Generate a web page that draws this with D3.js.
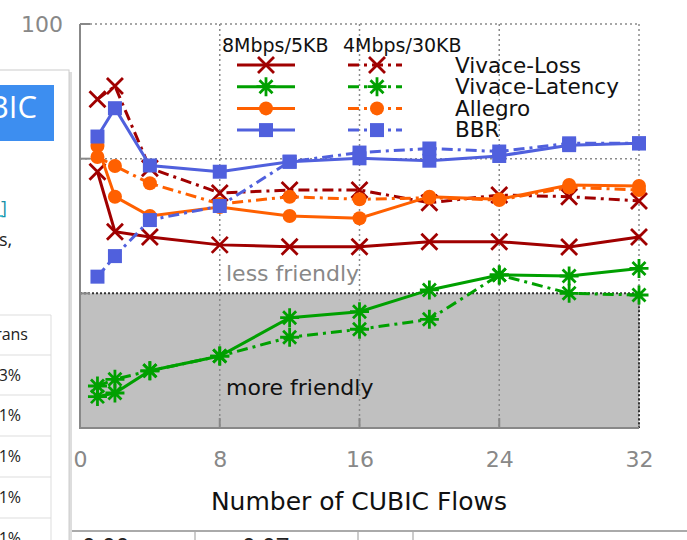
<!DOCTYPE html>
<html>
<head>
<meta charset="utf-8">
<script src="https://cdn.jsdelivr.net/npm/d3@7"></script>
<style>
  body { margin: 0; background: #fff; }
  svg { display: block; }
</style>
</head>
<body>
<script>
// number of CUBIC flows (x)
var flows = [1, 2, 4, 8, 12, 16, 20, 24, 28, 32];

// ratio values (log y axis)
var lossA    = [8.0, 2.87, 2.62, 2.29, 2.22, 2.22, 2.42, 2.42, 2.21, 2.62];   // 8Mbps/5KB
var lossB    = [27.6, 34.6, 8.5, 5.56, 5.85, 5.85, 4.71, 5.37, 5.22, 4.85];   // 4Mbps/30KB
var latA     = [0.171, 0.182, 0.266, 0.342, 0.659, 0.731, 1.06, 1.37, 1.345, 1.53];
var latB     = [0.205, 0.23, 0.266, 0.342, 0.472, 0.541, 0.641, 1.37, 1.0, 0.972];
var allegroA = [12.4, 5.22, 3.75, 4.38, 3.75, 3.61, 5.22, 4.99, 6.37, 6.27];
var allegroB = [10.3, 8.82, 6.56, 4.61, 5.22, 4.99, 5.13, 4.93, 6.13, 5.85];
var bbrA     = [14.6, 23.7, 8.9, 8.0, 9.49, 10.06, 9.66, 10.47, 12.6, 13.0];
var bbrB     = [1.33, 1.89, 3.5, 4.45, 9.49, 11.1, 11.9, 11.3, 13.0, 13.0];

var xTicks = [0, 8, 16, 24, 32];
var yTicks = [0.1, 1, 10, 100];
var protocols = ["Vivace-Loss", "Vivace-Latency", "Allegro", "BBR"];
var headers = ["8Mbps/5KB", "4Mbps/30KB"];

var series = [
  {name: "Vivace-Loss", vals: lossA, dashed: false},
  {name: "Vivace-Loss", vals: lossB, dashed: true},
  {name: "Vivace-Latency", vals: latA, dashed: false},
  {name: "Vivace-Latency", vals: latB, dashed: true},
  {name: "Allegro", vals: allegroA, dashed: false},
  {name: "Allegro", vals: allegroB, dashed: true},
  {name: "BBR", vals: bbrA, dashed: false},
  {name: "BBR", vals: bbrB, dashed: true}
];

var colors = {"Vivace-Loss": "#a00000", "Vivace-Latency": "#00a000", "Allegro": "#ff6000", "BBR": "#5060dd"};
var markers = {"Vivace-Loss": "x", "Vivace-Latency": "star", "Allegro": "circle", "BBR": "square"};

var W = 687, H = 540;
var pL = 80, pR = 639, pT = 24, pB = 428;
var font = "'DejaVu Sans', sans-serif";

var svg = d3.select("body").append("svg").attr("width", W).attr("height", H);

var x = d3.scaleLinear().domain([0, 32]).range([pL, pR]);
var y = d3.scaleLog().domain([0.1, 100]).range([pB, pT]);

// grey "more friendly" band below ratio 1
svg.append("rect")
  .attr("x", pL).attr("y", y(1))
  .attr("width", pR - pL).attr("height", pB - y(1))
  .attr("fill", "#c0c0c0");

// dotted grid
var grid = svg.append("g").attr("stroke", "#8a8a8a").attr("stroke-width", 1.5).attr("stroke-dasharray", "2,3");
grid.selectAll(".vg").data(xTicks.slice(1)).enter().append("line")
  .attr("x1", function(d) { return x(d); }).attr("x2", function(d) { return x(d); })
  .attr("y1", pT).attr("y2", pB);
grid.selectAll(".hg").data([10, 100]).enter().append("line")
  .attr("x1", pL).attr("x2", pR)
  .attr("y1", function(d) { return y(d); }).attr("y2", function(d) { return y(d); });
// darker dotted edges of the band
svg.append("path")
  .attr("d", "M" + pL + "," + y(1) + "H" + pR + "V" + pB)
  .attr("fill", "none").attr("stroke", "#333").attr("stroke-width", 2).attr("stroke-dasharray", "2,2");

// solid axis lines and small ticks
var ax = svg.append("g").attr("stroke", "#888").attr("stroke-width", 2).attr("fill", "none");
ax.append("path").attr("d", "M" + pL + "," + pT + "V" + pB + "H" + pR);
yTicks.forEach(function(t) {
  ax.append("line").attr("x1", pL).attr("x2", pL + 10).attr("y1", y(t)).attr("y2", y(t));
});
xTicks.slice(1, 4).forEach(function(t) {
  ax.append("line").attr("x1", x(t)).attr("x2", x(t)).attr("y1", pB).attr("y2", pB - 10);
});

// tick labels through d3 axes
var xAxis = svg.append("g").attr("transform", "translate(0," + pB + ")")
  .call(d3.axisBottom(x).tickValues(xTicks).tickSize(0).tickPadding(23));
var yAxis = svg.append("g").attr("transform", "translate(" + pL + ",0)")
  .call(d3.axisLeft(y).tickValues(yTicks).tickSize(0).tickPadding(17).tickFormat(d3.format("")));
[xAxis, yAxis].forEach(function(a) {
  a.select(".domain").remove();
  a.selectAll("text").attr("font-family", font).attr("font-size", 22).attr("fill", "#888");
});

svg.append("text").attr("x", 359).attr("y", 510).attr("text-anchor", "middle")
  .attr("font-family", font).attr("font-size", 25).attr("fill", "#111")
  .text("Number of CUBIC Flows");

svg.append("text").attr("x", 226).attr("y", 281)
  .attr("font-family", font).attr("font-size", 22).attr("fill", "#888").text("less friendly");
svg.append("text").attr("x", 226).attr("y", 395)
  .attr("font-family", font).attr("font-size", 22).attr("fill", "#111").text("more friendly");

function marker(g, type, color) {
  if (type == "x") {
    g.append("path").attr("d", "M-8,-8L8,8M-8,8L8,-8").attr("stroke", color).attr("stroke-width", 2.8).attr("fill", "none");
  } else if (type == "star") {
    g.append("path").attr("d", "M-6.5,-6.5L6.5,6.5M-6.5,6.5L6.5,-6.5M0,-9.5V9.5M-9.5,0H9.5").attr("stroke", color).attr("stroke-width", 2.8).attr("fill", "none");
  } else if (type == "circle") {
    g.append("circle").attr("r", 7).attr("fill", color);
  } else {
    g.append("rect").attr("x", -7).attr("y", -7).attr("width", 14).attr("height", 14).attr("fill", color);
  }
}

var line = d3.line().x(function(d) { return x(d[0]); }).y(function(d) { return y(d[1]); });

series.forEach(function(s) {
  var pts = flows.map(function(f, i) { return [f, s.vals[i]]; });
  var c = colors[s.name];
  svg.append("path").datum(pts)
    .attr("d", line).attr("fill", "none").attr("stroke", c).attr("stroke-width", 3)
    .attr("stroke-dasharray", s.dashed ? "11,5,3,5" : null);
  pts.forEach(function(p) {
    var g = svg.append("g").attr("transform", "translate(" + x(p[0]) + "," + y(p[1]) + ")");
    marker(g, markers[s.name], c);
  });
});

// legend
var lg = svg.append("g");
lg.append("text").attr("x", 222).attr("y", 52).attr("font-family", font).attr("font-size", 19).attr("fill", "#111").text(headers[0]);
lg.append("text").attr("x", 343).attr("y", 52).attr("font-family", font).attr("font-size", 19).attr("fill", "#111").text(headers[1]);
protocols.forEach(function(p, i) {
  var ry = 65 + i * 21.7;
  var c = colors[p];
  lg.append("line").attr("x1", 237).attr("x2", 295).attr("y1", ry).attr("y2", ry).attr("stroke", c).attr("stroke-width", 3);
  marker(lg.append("g").attr("transform", "translate(266," + ry + ")"), markers[p], c);
  lg.append("line").attr("x1", 348).attr("x2", 402).attr("y1", ry).attr("y2", ry).attr("stroke", c).attr("stroke-width", 3).attr("stroke-dasharray", "11,5,3,5");
  marker(lg.append("g").attr("transform", "translate(377," + ry + ")"), markers[p], c);
  lg.append("text").attr("x", 455).attr("y", 73 + i * 21.3).attr("font-family", font).attr("font-size", 21.5).attr("fill", "#111").text(p);
});

// page around the figure: bottom edge and next table peeking in
svg.append("line").attr("x1", 69).attr("x2", W).attr("y1", 531).attr("y2", 531).attr("stroke", "#aaa").attr("stroke-width", 2);
[195, 358, 413].forEach(function(v) {
  svg.append("line").attr("x1", v).attr("x2", v).attr("y1", 532).attr("y2", H).attr("stroke", "#999");
});
svg.append("text").attr("x", 82).attr("y", 555).attr("font-family", "'Open Sans', sans-serif").attr("font-size", 24).attr("fill", "#222").text("0.00");
svg.append("text").attr("x", 242).attr("y", 555).attr("font-family", "'Open Sans', sans-serif").attr("font-size", 24).attr("fill", "#222").text("0.07");

// left side panel overlapping the figure
var panel = svg.append("g");
panel.append("rect").attr("x", 69).attr("y", 72).attr("width", 3).attr("height", H).attr("fill", "#ddd");
panel.append("rect").attr("x", -5).attr("y", 70).attr("width", 74).attr("height", H).attr("fill", "#fff").attr("stroke", "#ccc");
panel.append("rect").attr("x", -5).attr("y", 85).attr("width", 59).attr("height", 56).attr("fill", "#3d8ef0");
panel.append("text").attr("x", 37).attr("y", 118).attr("text-anchor", "end")
  .attr("font-family", "'Open Sans', sans-serif").attr("font-size", 31).attr("fill", "#fff").text("CUBIC");
panel.append("text").attr("x", 1).attr("y", 214).attr("font-family", "'Open Sans', sans-serif").attr("font-size", 18).attr("fill", "#1a8fa8").text("]");
panel.append("line").attr("x1", 0).attr("x2", 3).attr("y1", 216).attr("y2", 216).attr("stroke", "#1ab0c8").attr("stroke-width", 1.5);
panel.append("text").attr("x", -1).attr("y", 246).attr("font-family", "'Open Sans', sans-serif").attr("font-size", 18).attr("fill", "#222").text("s,");

var rowLines = [315, 355, 395, 436, 477, 518];
var cells = ["rans", "3%", "1%", "1%", "1%", "1%"];
rowLines.forEach(function(r) {
  panel.append("line").attr("x1", 0).attr("x2", 51).attr("y1", r).attr("y2", r).attr("stroke", "#ddd");
});
panel.append("line").attr("x1", 51).attr("x2", 51).attr("y1", 315).attr("y2", H).attr("stroke", "#ddd");
cells.forEach(function(t, i) {
  panel.append("text").attr("x", i == 0 ? 28 : 21).attr("y", 340 + i * 40.7).attr("text-anchor", "end")
    .attr("font-family", "'Open Sans', sans-serif").attr("font-size", 16).attr("fill", "#222").text(t);
});
</script>
</body>
</html>
